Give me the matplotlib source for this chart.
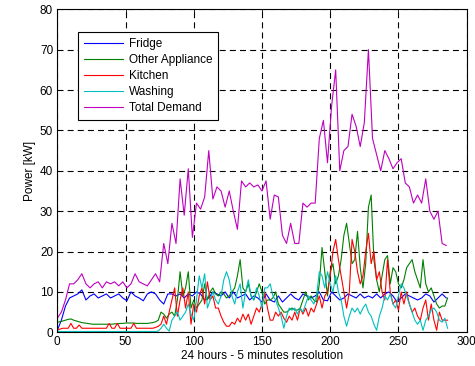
import numpy as np
import matplotlib
matplotlib.use("Agg")
import matplotlib.pyplot as plt

plt.rcParams['font.family'] = ['Liberation Sans', 'DejaVu Sans']
plt.rcParams['lines.scale_dashes'] = False

# ---- data (5-minute samples over 24 h) ----
# Total demand, sampled every 3 steps
total_demand = [3.5, 5, 8, 12, 12, 13, 14.5, 12, 11, 12, 12.5, 11, 12.5, 12, 12.5, 11.5,
                12.5, 11, 12, 14.5, 12.5, 12, 11.5, 13, 14.5, 12.5, 22, 17, 27, 22,
                38, 29, 40.5, 23.5, 32, 30.5, 33.5, 45, 33, 36, 35, 31, 35, 30, 25.5, 37.5,
                36, 37, 36, 36.5, 35, 37.5, 28, 34, 33.5, 24, 22, 27, 22, 22,
                32, 31, 32, 32, 48, 52.5, 42, 56, 65, 40, 45, 46, 54, 51, 46, 52,
                70, 48, 44, 40, 45, 43, 40.5, 42, 43, 37, 36, 32, 34, 32, 38, 30,
                28, 30, 22, 21.5]
# Fridge, sampled every 3 steps
fridge = [0.5, 3, 6.5, 8.5, 9, 9.5, 10.5, 8, 9, 9.5, 8.5, 9, 9.5, 8.5, 9, 9.5,
          8.5, 7.8, 10, 9, 8.5, 7.8, 9.5, 10, 9.5, 8, 7, 9.5, 9.5, 9, 9.5, 8.5,
          9.5, 9, 10, 9.5, 8, 8.5, 10, 9.5, 9, 10, 8.5, 10, 8.5, 9, 9.5, 8,
          9, 8.5, 7.5, 9.5, 8, 7.5, 9, 7.5, 8.5, 9.5, 8.5, 8, 9.5, 9, 8.5, 9,
          10, 8, 7.8, 10, 9, 8, 8.5, 9.5, 9, 8.5, 9.5, 8.5, 9, 8.5, 9.5, 8.5,
          9.5, 10, 9, 7.5, 8.5, 9.5, 9, 8.5, 8, 8.5, 9.5, 9, 7.5, 8.5, 9.5, 8.5]
# Other appliance, sampled every 2 steps
other_appliance = [2.5, 2.6, 2.8, 3.0, 3.2, 3.3, 3.0, 2.8, 2.6, 2.4, 2.3, 2.2, 2.1, 2.0, 2.0, 2.0,
                   2.0, 2.0, 2.0, 2.0, 2.0, 2.1, 2.1, 2.2, 2.2, 2.3, 2.3, 2.3, 2.3, 2.2, 2.2, 2.2,
                   2.2, 2.2, 2.3, 2.4, 2.6, 3.0,
                   5, 4.5, 3.5, 4.5, 5, 4, 8, 15, 9, 11, 15, 6, 8, 6, 7, 8,
                   12, 8, 10, 11, 9.5, 9, 10, 9.5, 8.5, 9, 10, 11, 14, 18, 11, 10,
                   12, 9, 8, 10, 12, 10, 7, 8, 8, 8.5, 10, 7, 6, 5, 5, 5.5,
                   6, 5.5, 5.5, 6, 8, 10, 8, 9, 8, 7.5, 12, 21, 15, 9, 15, 17,
                   12, 14, 18, 24, 27, 22, 17, 18, 25, 16, 11, 17, 31, 34, 18, 13,
                   10, 14, 18, 19, 12, 16, 15, 12, 11, 13, 16, 17, 18, 15, 13, 11,
                   18, 12, 10, 11, 9, 7, 6, 6.5, 6.5, 8.5]
# Kitchen, sampled every 2 steps
kitchen = [0.5, 0.8, 1, 1, 1, 2.2, 1, 1, 1.8, 1, 1, 1, 1, 1, 1, 1,
           1, 1, 1, 2.2, 1, 1, 2.2, 1, 1, 1, 1, 1, 2.2, 1, 1, 1,
           1, 1, 1, 1, 1.2, 1.5,
           2, 4, 2, 5, 8, 11, 4, 8, 11, 6, 10, 2, 7, 5, 9, 11,
           7, 12.5, 8, 9, 6, 6, 4, 2.5, 1.5, 1.5, 2.5, 2, 3.5, 2.5, 4.5, 3,
           4.5, 2, 4, 6, 5, 7, 10, 6, 3, 3, 5, 4, 5, 3.5, 2.5, 4,
           3, 5, 3, 6, 4.5, 6, 4, 6, 5, 7, 9, 6, 9, 10, 14, 20,
           23, 18, 14, 10, 6, 10, 23, 20, 15, 12, 14, 20, 24.5, 17, 20, 13,
           15, 10, 8, 18, 10, 7, 8, 5.5, 10, 7, 10, 7, 5, 6, 4, 3,
           6, 8, 3, 7, 3, 0.5, 5, 3, 3, 3]
# Washing, sampled every 2 steps
washing = [0.2] * 37 + [0.3,
           1, 2, 1, 0.3, 3, 4, 5, 3, 4, 5, 7, 4.5, 3, 8, 14, 11,
           14.5, 6, 8, 10, 8, 7, 9, 13, 15, 13, 9, 7, 10, 12, 6, 10,
           13, 9, 8, 11, 9, 6, 11, 11, 12, 9, 8, 6, 4, 1, 4, 6,
           5.5, 6, 4.5, 6, 5, 7, 9, 8, 7, 9, 15, 14, 11, 15, 12, 10,
           14, 10, 8, 4, 1.5, 4, 6, 5, 6, 4.5, 6, 7, 5, 4, 2, 0.5,
           4, 6, 9, 8, 9.5, 7, 6, 9, 12, 11, 9, 7, 5, 3, 2, 3,
           0.5, 3, 4, 5.5, 6, 5, 3, 2.5, 3.5, 1]

series = [
    ("Fridge", fridge, 3, (0, 0, 1)),
    ("Other Appliance", other_appliance, 2, (0, 0.5, 0)),
    ("Kitchen", kitchen, 2, (1, 0, 0)),
    ("Washing", washing, 2, (0, 0.75, 0.75)),
    ("Total Demand", total_demand, 3, (0.75, 0, 0.75)),
]

fig = plt.figure(figsize=(4.75, 3.66), dpi=100)
ax = fig.add_axes([0.1206, 0.0921, 0.8619, 0.8825])

for name, vals, step, col in series:
    t = np.arange(len(vals)) * step
    ax.plot(t, vals, color=col, lw=0.8, label=name)

ax.set_xlim(0, 300)
ax.set_ylim(0, 80)
ax.set_xticks(np.arange(0, 301, 50))
ax.set_yticks(np.arange(0, 81, 10))
ax.grid(True, color='black', lw=0.8, linestyle=(0, (4.3, 3.0)))
ax.tick_params(direction='in', top=True, right=True, labelsize=8.5, length=3, width=0.6, pad=3)
for s in ax.spines.values():
    s.set_linewidth(0.8)
    s.set_color('black')

ax.set_xlabel("24 hours - 5 minutes resolution", fontsize=8.5, labelpad=1)
ax.set_ylabel("Power [kW]", fontsize=8.5, labelpad=3)

leg = ax.legend(loc='upper left', bbox_to_anchor=(0.0506, 0.93), borderaxespad=0,
                fancybox=False, framealpha=1, edgecolor='black', fontsize=8.5,
                handlelength=3.3, labelspacing=0.35, borderpad=0.5, handletextpad=0.5)
leg.get_frame().set_linewidth(0.8)

fig.savefig("out.png", dpi=100)
